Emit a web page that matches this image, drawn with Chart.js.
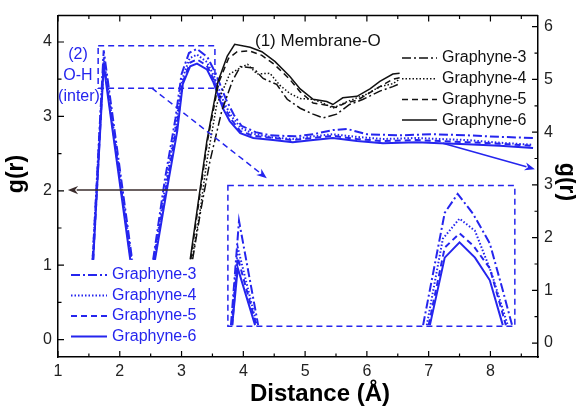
<!DOCTYPE html>
<html>
<head>
<meta charset="utf-8">
<script src="https://cdn.jsdelivr.net/npm/chart.js@4/dist/chart.umd.min.js"></script>
<style>
html, body { margin: 0; padding: 0; background: #fff; }
</style>
</head>
<body>
<canvas id="c" width="576" height="409"></canvas>
<script>
// tick values
var xTicks = [1, 2, 3, 4, 5, 6, 7, 8];
var yLeftTicks = [0, 1, 2, 3, 4];
var yRightTicks = [0, 1, 2, 3, 4, 5, 6];
var seriesNames = ["Graphyne-3", "Graphyne-4", "Graphyne-5", "Graphyne-6"];

// (1) Membrane-O, left axis
var memG3 = [[3.18,1.08],[3.31,1.73],[3.46,2.40],[3.65,3.07],[3.82,3.47],[3.95,3.67],[4.16,3.65],[4.32,3.51],[4.54,3.43],[4.71,3.23],[4.92,3.11],[5.13,3.03],[5.29,2.98],[5.51,3.03],[5.72,3.16],[5.94,3.23],[6.21,3.34],[6.42,3.40],[6.53,3.44]];
var memG4 = [[3.17,1.08],[3.30,1.73],[3.41,2.40],[3.57,3.16],[3.78,3.57],[3.99,3.67],[4.07,3.70],[4.22,3.57],[4.43,3.58],[4.59,3.42],[4.75,3.31],[4.92,3.24],[5.13,3.23],[5.29,3.18],[5.45,3.11],[5.68,3.20],[6.00,3.30],[6.21,3.40],[6.42,3.44],[6.53,3.50]];
var memG5 = [[3.15,1.08],[3.26,1.73],[3.42,2.67],[3.60,3.45],[3.76,3.78],[3.90,3.87],[4.10,3.88],[4.30,3.82],[4.50,3.70],[4.75,3.50],[4.92,3.33],[5.13,3.18],[5.35,3.15],[5.50,3.12],[5.65,3.18],[5.85,3.22],[6.05,3.32],[6.21,3.40],[6.42,3.50],[6.53,3.52]];
var memG6 = [[3.14,1.08],[3.25,1.73],[3.41,2.67],[3.59,3.47],[3.74,3.81],[3.86,3.97],[4.11,3.93],[4.30,3.87],[4.51,3.74],[4.75,3.54],[4.92,3.37],[5.13,3.23],[5.35,3.20],[5.45,3.16],[5.61,3.25],[5.84,3.27],[6.05,3.37],[6.21,3.47],[6.42,3.57],[6.53,3.58]];

// (2) O-H (inter), right axis
var ohG3 = [[1.56,1.58],[1.74,5.55],[2.20,1.58],[2.37,null],[2.54,1.58],[2.73,3.10],[2.90,4.25],[3.00,5.10],[3.12,5.50],[3.25,5.58],[3.42,5.42],[3.55,5.12],[3.72,4.62],[3.85,4.32],[3.97,4.12],[4.20,4.00],[4.43,3.94],[4.84,3.92],[5.13,3.96],[5.45,4.04],[5.68,4.06],[6.00,3.96],[6.53,3.94],[7.07,3.96],[7.62,3.94],[8.15,3.91],[8.69,3.89]];
var ohG4 = [[1.56,1.58],[1.74,5.42],[2.19,1.58],[2.37,null],[2.55,1.58],[2.74,3.00],[2.91,4.15],[3.01,5.00],[3.13,5.40],[3.25,5.47],[3.41,5.33],[3.53,5.05],[3.69,4.55],[3.81,4.30],[3.96,4.08],[4.16,3.97],[4.48,3.90],[4.80,3.87],[5.13,3.92],[5.45,3.96],[5.84,3.91],[6.26,3.87],[6.81,3.89],[7.18,3.87],[7.62,3.85],[8.15,3.80],[8.69,3.76]];
var ohG5 = [[1.57,1.58],[1.74,5.34],[2.18,1.58],[2.37,null],[2.56,1.58],[2.75,2.95],[2.92,4.10],[3.02,4.95],[3.14,5.32],[3.25,5.38],[3.41,5.26],[3.52,5.00],[3.68,4.50],[3.80,4.25],[3.95,4.02],[4.16,3.93],[4.48,3.89],[4.80,3.85],[5.13,3.89],[5.45,3.93],[5.84,3.87],[6.26,3.83],[6.81,3.85],[7.18,3.83],[7.62,3.81],[8.15,3.78],[8.69,3.74]];
var ohG6 = [[1.57,1.58],[1.74,5.26],[2.17,1.58],[2.37,null],[2.57,1.58],[2.76,2.89],[2.93,4.02],[3.02,4.91],[3.14,5.25],[3.25,5.30],[3.41,5.19],[3.51,4.96],[3.67,4.45],[3.78,4.21],[3.95,3.98],[4.16,3.89],[4.48,3.85],[4.80,3.81],[5.13,3.85],[5.45,3.89],[5.84,3.83],[6.26,3.79],[6.81,3.81],[7.18,3.79],[7.62,3.77],[8.15,3.74],[8.69,3.70]];

// magnified view inside the inset box, right axis
var zoomG3 = [[3.80,0.34],[3.93,2.32],[4.24,0.34],[5.5,null],[6.91,0.34],[7.26,2.47],[7.47,2.83],[7.72,2.45],[7.99,1.89],[8.20,1.00],[8.35,0.34]];
var zoomG4 = [[3.81,0.34],[3.91,1.81],[4.22,0.34],[5.5,null],[6.97,0.34],[7.23,1.98],[7.50,2.36],[7.75,2.13],[8.02,1.32],[8.28,0.34]];
var zoomG5 = [[3.82,0.34],[3.91,1.62],[4.21,0.34],[5.5,null],[7.00,0.34],[7.26,1.81],[7.50,2.08],[7.72,1.85],[7.99,1.42],[8.25,0.34]];
var zoomG6 = [[3.82,0.34],[3.91,1.42],[4.19,0.34],[5.5,null],[7.02,0.34],[7.26,1.62],[7.50,1.91],[7.75,1.62],[7.99,1.19],[8.20,0.34]];

// annotation marks, left axis coordinates
var peakBox = [[1.65,3.38],[3.54,3.95]];
var insetBox = [[3.75,0.18],[8.395,2.07]];
var dashArrow = [[2.52,3.38],[4.38,2.17]];
var blackArrow = [[3.25,2.01],[1.16,2.01]];
var blueArrow = [[7.23,2.64],[8.72,2.29]];

var BLUE = "#2525ee";
var BLACK = "#111111";
var FONT = "'Liberation Sans', Arial, sans-serif";
var dashes = [[9, 3, 2, 3], [1.5, 2], [6, 4], []];

function pts(arr) {
	return arr.map(function(p) { return {x: p[0], y: p[1]}; });
}

var datasets = [];
[memG3, memG4, memG5, memG6].forEach(function(d, i) {
	datasets.push({data: pts(d), yAxisID: "y", borderColor: BLACK, borderWidth: 1.5, borderDash: dashes[i]});
});
[ohG3, ohG4, ohG5, ohG6].forEach(function(d, i) {
	datasets.push({data: pts(d), yAxisID: "y1", borderColor: BLUE, borderWidth: 2, borderDash: dashes[i]});
});
[zoomG3, zoomG4, zoomG5, zoomG6].forEach(function(d, i) {
	datasets.push({data: pts(d), yAxisID: "y1", borderColor: BLUE, borderWidth: 2, borderDash: dashes[i]});
});

function setTicks(list) {
	return function(scale) {
		scale.ticks = list.map(function(v) { return {value: v}; });
	};
}

function arrow(ctx, x0, y0, x1, y1, color, dash, head) {
	var a = Math.atan2(y1 - y0, x1 - x0);
	ctx.save();
	ctx.strokeStyle = color;
	ctx.fillStyle = color;
	ctx.lineWidth = 1.5;
	ctx.setLineDash(dash);
	ctx.beginPath();
	ctx.moveTo(x0, y0);
	ctx.lineTo(x1 - head * 0.8 * Math.cos(a), y1 - head * 0.8 * Math.sin(a));
	ctx.stroke();
	ctx.setLineDash([]);
	ctx.beginPath();
	ctx.moveTo(x1, y1);
	ctx.lineTo(x1 - head * Math.cos(a - 0.38), y1 - head * Math.sin(a - 0.38));
	ctx.lineTo(x1 - head * 0.65 * Math.cos(a), y1 - head * 0.65 * Math.sin(a));
	ctx.lineTo(x1 - head * Math.cos(a + 0.38), y1 - head * Math.sin(a + 0.38));
	ctx.closePath();
	ctx.fill();
	ctx.restore();
}

var decor = {
	id: "decor",
	afterDraw: function(chart) {
		var ctx = chart.ctx;
		var ca = chart.chartArea;
		var sx = chart.scales.x, sy = chart.scales.y, sr = chart.scales.y1;
		var X = function(v) { return sx.getPixelForValue(v); };
		var Y = function(v) { return sy.getPixelForValue(v); };

		// frame top line
		ctx.save();
		ctx.strokeStyle = "#000";
		ctx.lineWidth = 1.5;
		ctx.beginPath();
		ctx.moveTo(ca.left, ca.top);
		ctx.lineTo(ca.right, ca.top);
		ctx.stroke();

		// inward ticks
		ctx.lineWidth = 1.2;
		ctx.beginPath();
		for (var v = 1; v <= 8.5; v += 0.5) {
			var len = (v % 1 === 0) ? 6 : 3.5;
			var px = X(v);
			ctx.moveTo(px, ca.bottom); ctx.lineTo(px, ca.bottom - len);
			ctx.moveTo(px, ca.top); ctx.lineTo(px, ca.top + len);
		}
		for (var w = 0; w <= 4; w += 0.5) {
			var l2 = (w % 1 === 0) ? 6 : 3.5;
			ctx.moveTo(ca.left, Y(w)); ctx.lineTo(ca.left + l2, Y(w));
		}
		for (var r = 0; r <= 6; r += 0.5) {
			var l3 = (r % 1 === 0) ? 6 : 3.5;
			var py = sr.getPixelForValue(r);
			ctx.moveTo(ca.right, py); ctx.lineTo(ca.right - l3, py);
		}
		ctx.stroke();
		ctx.restore();

		// boxes
		ctx.save();
		ctx.strokeStyle = BLUE;
		ctx.lineWidth = 1.5;
		ctx.setLineDash([6, 4]);
		[peakBox, insetBox].forEach(function(b) {
			ctx.strokeRect(X(b[0][0]), Y(b[1][1]), X(b[1][0]) - X(b[0][0]), Y(b[0][1]) - Y(b[1][1]));
		});
		ctx.restore();

		arrow(ctx, X(dashArrow[0][0]), Y(dashArrow[0][1]), X(dashArrow[1][0]), Y(dashArrow[1][1]), BLUE, [6, 4], 11);
		arrow(ctx, X(blackArrow[0][0]), Y(blackArrow[0][1]), X(blackArrow[1][0]), Y(blackArrow[1][1]), "#3a2c2c", [], 11);
		arrow(ctx, X(blueArrow[0][0]), Y(blueArrow[0][1]), X(blueArrow[1][0]), Y(blueArrow[1][1]), BLUE, [], 11);

		// labels
		ctx.save();
		ctx.textBaseline = "middle";
		ctx.font = "17px " + FONT;
		ctx.fillStyle = BLACK;
		ctx.textAlign = "left";
		ctx.fillText("(1) Membrane-O", 255, 41);
		ctx.fillStyle = BLUE;
		ctx.font = "16px " + FONT;
		ctx.textAlign = "center";
		ctx.fillText("(2)", 78, 55);
		ctx.fillText("O-H", 78, 76);
		ctx.fillText("(inter)", 79, 97);

		// legends
		ctx.textAlign = "left";
		seriesNames.forEach(function(name, i) {
			var yb = 58 + i * 20.7;
			ctx.strokeStyle = BLACK;
			ctx.lineWidth = 1.5;
			ctx.setLineDash(dashes[i]);
			ctx.beginPath(); ctx.moveTo(402, yb); ctx.lineTo(437, yb); ctx.stroke();
			ctx.setLineDash([]);
			ctx.fillStyle = BLACK;
			ctx.fillText(name, 442, yb);

			var ya = 275 + i * 20.5;
			ctx.strokeStyle = BLUE;
			ctx.lineWidth = 2;
			ctx.setLineDash(dashes[i]);
			ctx.beginPath(); ctx.moveTo(71, ya); ctx.lineTo(107, ya); ctx.stroke();
			ctx.setLineDash([]);
			ctx.fillStyle = BLUE;
			ctx.fillText(name, 112, ya);
		});

		// axis titles
		ctx.fillStyle = "#000";
		ctx.font = "bold 24px " + FONT;
		ctx.textAlign = "center";
		ctx.fillText("Distance (\u00c5)", 320, 394);
		ctx.font = "bold 23px " + FONT;
		ctx.save();
		ctx.translate(17, 174);
		ctx.rotate(-Math.PI / 2);
		ctx.fillText("g(r)", 0, 0);
		ctx.restore();
		ctx.save();
		ctx.translate(566, 182);
		ctx.rotate(Math.PI / 2);
		ctx.fillText("g(r)", 0, 0);
		ctx.restore();
		ctx.restore();
	}
};

var tickFont = {family: FONT, size: 16};

new Chart(document.getElementById("c"), {
	type: "scatter",
	data: {datasets: datasets},
	options: {
		responsive: false,
		animation: false,
		events: [],
		layout: {padding: {top: 14, left: 0, right: 0, bottom: 0}},
		elements: {
			point: {radius: 0},
			line: {tension: 0, fill: false}
		},
		datasets: {scatter: {showLine: true, spanGaps: false}},
		plugins: {legend: {display: false}, tooltip: {enabled: false}},
		scales: {
			x: {
				type: "linear", position: "bottom", min: 1, max: 8.77,
				grid: {display: false, drawTicks: false},
				border: {display: true, color: "#000", width: 1.5},
				ticks: {font: tickFont, color: "#222", padding: 5},
				afterBuildTicks: setTicks(xTicks),
				afterFit: function(s) { s.height = 52; }
			},
			y: {
				type: "linear", position: "left", min: -0.234, max: 4.355,
				grid: {display: false, drawTicks: false},
				border: {display: true, color: "#000", width: 1.5},
				ticks: {font: tickFont, color: "#222", padding: 6},
				afterBuildTicks: setTicks(yLeftTicks),
				afterFit: function(s) { s.width = 58; }
			},
			y1: {
				type: "linear", position: "right", min: -0.264, max: 6.21,
				grid: {display: false, drawTicks: false},
				border: {display: true, color: "#000", width: 1.5},
				ticks: {font: tickFont, color: "#222", padding: 6},
				afterBuildTicks: setTicks(yRightTicks),
				afterFit: function(s) { s.width = 38; }
			}
		}
	},
	plugins: [decor]
});
</script>
</body>
</html>
